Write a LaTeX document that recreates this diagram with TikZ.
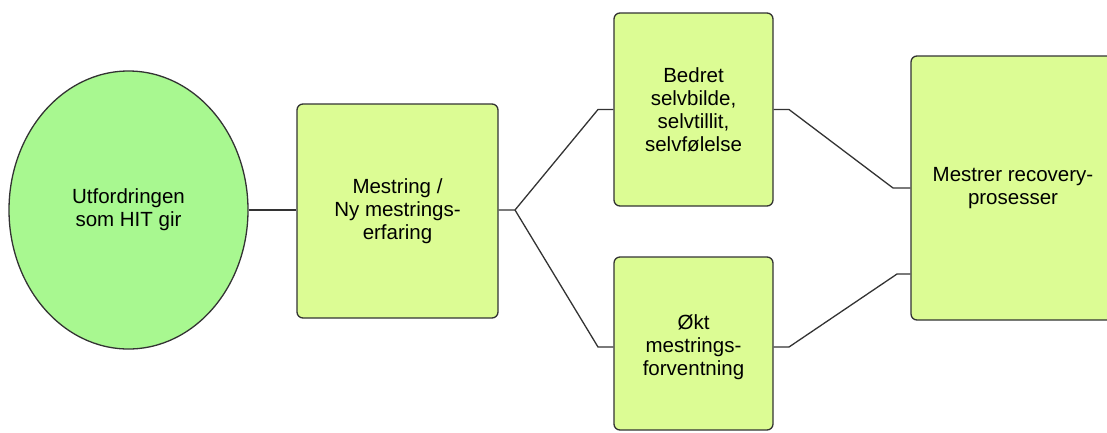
\documentclass[tikz,border=0pt]{standalone}
\usepackage{fontspec}
\setmainfont{Liberation Sans}
\usetikzlibrary{shapes.geometric}
\definecolor{ellfill}{HTML}{A8F890}
\definecolor{boxfill}{HTML}{DCFC94}
\definecolor{edgecol}{HTML}{333333}
\begin{document}
\begin{tikzpicture}[x=1pt,y=-1pt,
  txt/.style={font=\fontsize{20.5}{23}\selectfont, align=center, text=black},
  greenbox/.style={txt, draw=edgecol, line width=1.3pt, fill=boxfill, rounded corners=6pt, inner sep=0pt},
  conn/.style={draw=edgecol, line width=1.3pt, line join=round}]
\useasboundingbox (0,0) rectangle (1107,432);
\node[ellipse, draw=edgecol, line width=1.3pt, fill=ellfill, minimum width=239pt, minimum height=278pt, txt, inner sep=0pt] (e) at (128.5,210) {Utfordringen\\som HIT gir};
\node[greenbox, minimum width=201pt, minimum height=214pt] (b1) at (397.5,211) {Mestring /\\Ny mestrings-\\erfaring};
\node[greenbox, minimum width=159pt, minimum height=193pt] (b2) at (693.5,109.5) {Bedret\\selvbilde,\\selvtillit,\\selvfølelse};
\node[greenbox, minimum width=159pt, minimum height=173pt,
  label={[txt, yshift=-4pt]center:{Økt\\mestrings-\\forventning}}] (b3) at (693.5,343.5) {};
\node[greenbox, minimum width=204pt, minimum height=264pt] (b4) at (1013,188) {Mestrer recovery-\\prosesser};
\coordinate (j1) at (515,210);
\coordinate (k2) at (598,109.5);
\coordinate (k3) at (598,347);
\coordinate (m2a) at (789,109.5);
\coordinate (m2b) at (893,188);
\coordinate (m3a) at (789,347);
\coordinate (m3b) at (897,274);
\draw[conn] (e.east) -- (e.east -| b1.west);
\draw[conn] (b1.east |- j1) -- (j1) -- (k2) -- (b2.west);
\draw[conn] (j1) -- (k3) -- (k3 -| b3.west);
\draw[conn] (b2.east) -- (m2a) -- (m2b) -- (m2b -| b4.west);
\draw[conn] (m3a -| b3.east) -- (m3a) -- (m3b) -- (m3b -| b4.west);
\end{tikzpicture}
\end{document}
